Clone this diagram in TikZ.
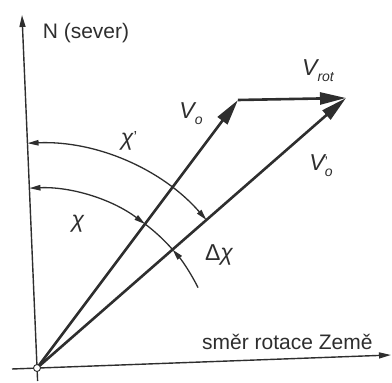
\documentclass[tikz,border=0pt]{standalone}
\usepackage{fontspec}
\setmainfont{Liberation Sans}
\usetikzlibrary{arrows.meta,calc}
\definecolor{ink}{HTML}{2E2E2E}
\begin{document}
\begin{tikzpicture}[x=1pt,y=1pt,line join=round,
  vec/.style={draw=ink,line width=2.6pt,-{Triangle[length=26pt,width=12pt]}},
  axisline/.style={draw=ink,line width=1.4pt,-{Triangle[length=12pt,width=6pt]}},
  angarc/.style={draw=ink,line width=1.3pt},
  tipa/.style={-{Triangle[length=11pt,width=5.5pt]}},
  tipb/.style={{Triangle[length=11pt,width=5.5pt]}-{Triangle[length=11pt,width=5.5pt]}},
  lab/.style={text=ink,inner sep=0pt,font=\fontsize{21}{24}\selectfont},
  mlab/.style={text=ink,inner sep=0pt,font=\fontsize{23}{24}\selectfont\itshape}]
\newcommand\sbs[1]{\raisebox{-6pt}{\fontsize{14}{14}\selectfont #1}}
\useasboundingbox (0,0) rectangle (392,383);
\coordinate (O) at (37,15);
\coordinate (Ntip) at (22,368);
\coordinate (Nbot) at (37.6,2);
\coordinate (Ewest) at (12,14);
\coordinate (Etip) at (391,28);
\coordinate (A) at (238,283);
\coordinate (B) at (346,285);
% axes
\draw[axisline] (Nbot) -- (Ntip);
\draw[axisline] (Ewest) -- (Etip);
% angle arcs
\coordinate (c1s) at ($(O)+(92.4:225)$);
\draw[angarc,tipb] (c1s) arc[start angle=92.4,end angle=41.15,radius=225];
\coordinate (c2s) at ($(O)+(92.4:180)$);
\draw[angarc,tipb] (c2s) arc[start angle=92.4,end angle=53.1,radius=180];
\coordinate (c3s) at ($(O)+(53.1:180)$);
\draw[angarc] (c3s) arc[start angle=53.1,end angle=41.15,radius=180];
\coordinate (c4s) at ($(O)+(26.5:180)$);
\draw[angarc,tipa] (c4s) arc[start angle=26.5,end angle=41.15,radius=180];
% vectors
\draw[vec] (O) -- (A);
\draw[vec] (A) -- (B);
\draw[vec] (O) -- (B);
\node[circle,draw=ink,fill=white,line width=0.9pt,minimum size=7pt,inner sep=0pt] (orig) at (O) {};
% labels
\node[lab] (north) at (86,350) {N (sever)};
\node[lab,anchor=west] (east) at (202,41) {směr rotace Země};
\node[mlab] (vo) at (191,269) {V\sbs{o}};
\node[mlab] (vrot) at (318,312) {V\sbs{rot}};
\node[mlab] (vop) at (321,217) {V\rlap{\raisebox{4pt}{\fontsize{14}{14}\selectfont\upshape'}}\sbs{o}};
\node[mlab] (chip) at (129,242) {χ\raisebox{3pt}{\fontsize{16}{16}\selectfont\upshape'}};
\node[mlab] (chi) at (78,159) {χ};
\node[mlab] (dchi) at (219,128) {\upshape Δ\itshape χ};
\end{tikzpicture}
\end{document}
